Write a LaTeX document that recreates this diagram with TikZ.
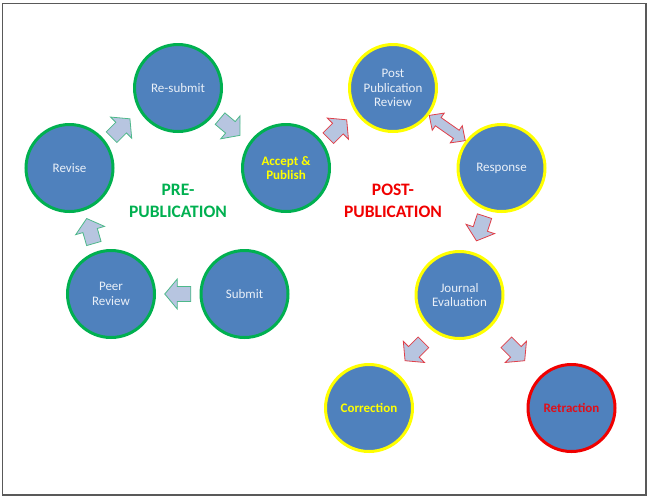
\documentclass[tikz,border=0pt]{standalone}
\usepackage{fontspec}
\setmainfont{Carlito}
\usetikzlibrary{calc}
\definecolor{cfill}{HTML}{4F81BD}
\definecolor{cgreen}{HTML}{00B050}
\definecolor{cyellow}{HTML}{FFFF00}
\definecolor{cred}{HTML}{F00000}
\definecolor{afill}{HTML}{B7C5E0}
\definecolor{agreen}{HTML}{4DB88A}
\definecolor{ared}{HTML}{E0404A}
\definecolor{ctext}{HTML}{EAF0F8}
\definecolor{rtext}{HTML}{E0101A}
\begin{document}
\begin{tikzpicture}[x=1pt,y=-1pt,
  stage/.style={circle, fill=cfill, line width=3pt, minimum size=87pt, inner sep=0pt,
    align=center, text=ctext, font=\fontsize{13}{14.5}\selectfont},
  prestage/.style={stage, draw=cgreen},
  poststage/.style={stage, draw=cyellow},
  endstage/.style={stage, draw=cred},
  prearrow/.style={fill=afill, draw=agreen, line width=0.8pt, line join=miter},
  postarrow/.style={fill=afill, draw=ared, line width=0.8pt, line join=miter},
  phase/.style={align=center, font=\fontsize{17.5}{22}\selectfont\bfseries},
  blkarrow/.pic={\draw[pic actions] (-13,-7.5) -- (0.5,-7.5) -- (0.5,-15) -- (13,0)
      -- (0.5,15) -- (0.5,7.5) -- (-13,7.5) -- cycle;},
  dblarrow/.pic={\draw[pic actions] (-22,0) -- (-11,-10.5) -- (-11,-5) -- (11,-5) -- (11,-10.5)
      -- (22,0) -- (11,10.5) -- (11,5) -- (-11,5) -- (-11,10.5) -- cycle;}
]
\useasboundingbox (0,0) rectangle (650,499);
\draw[black!65, line width=1.2pt] (2.5,3.5) rectangle (646,495);

% pre-publication
\node[prestage] (resubmit) at (178,88) {Re-submit};
\node[prestage] (revise) at (69.5,168) {Revise};
\node[prestage] (accept) at (286,168) {\textbf{\textcolor{cyellow}{Accept \&}}\\\textbf{\textcolor{cyellow}{Publish}}};
\node[prestage] (peer) at (111,294) {Peer\\Review};
\node[prestage] (submit) at (244.5,294) {Submit};

% post-publication
\node[poststage] (ppr) at (393,88) {Post\\Publication\\Review};
\node[poststage] (response) at (501.5,168) {Response};
\node[poststage] (journal) at (459.5,295) {Journal\\Evaluation};
\node[poststage] (correction) at (369,408) {\textbf{\textcolor{cyellow}{Correction}}};
\node[endstage] (retraction) at (571.5,408) {\textbf{\textcolor{rtext}{Retraction}}};

% phase labels
\node[phase, text=cgreen] (prelabel) at (178,201) {PRE-\\PUBLICATION};
\node[phase, text=cred] (postlabel) at (393,201) {POST-\\PUBLICATION};

% block arrows
\pic[prearrow, rotate=180] at ($(submit)!0.5!(peer)$) {blkarrow};
\pic[prearrow, rotate=106] at ($(peer)!0.5!(revise)$) {blkarrow};
\pic[prearrow, rotate=45] at ($(revise)!0.5!(resubmit)+(-3,0)$) {blkarrow};
\pic[prearrow, rotate=-40] at ($(resubmit)!0.5!(accept)+(-2,-1)$) {blkarrow};
\pic[postarrow, rotate=45] at ($(accept)!0.5!(ppr)+(-2,1)$) {blkarrow};
\pic[postarrow, rotate=-35] at ($(ppr)!0.5!(response)$) {dblarrow};
\pic[postarrow, rotate=-108] at ($(response)!0.5!(journal)+(0,-3)$) {blkarrow};
\pic[postarrow, rotate=-135] at ($(journal)!0.5!(correction)$) {blkarrow};
\pic[postarrow, rotate=-45] at ($(journal)!0.5!(retraction)$) {blkarrow};
\end{tikzpicture}
\end{document}
